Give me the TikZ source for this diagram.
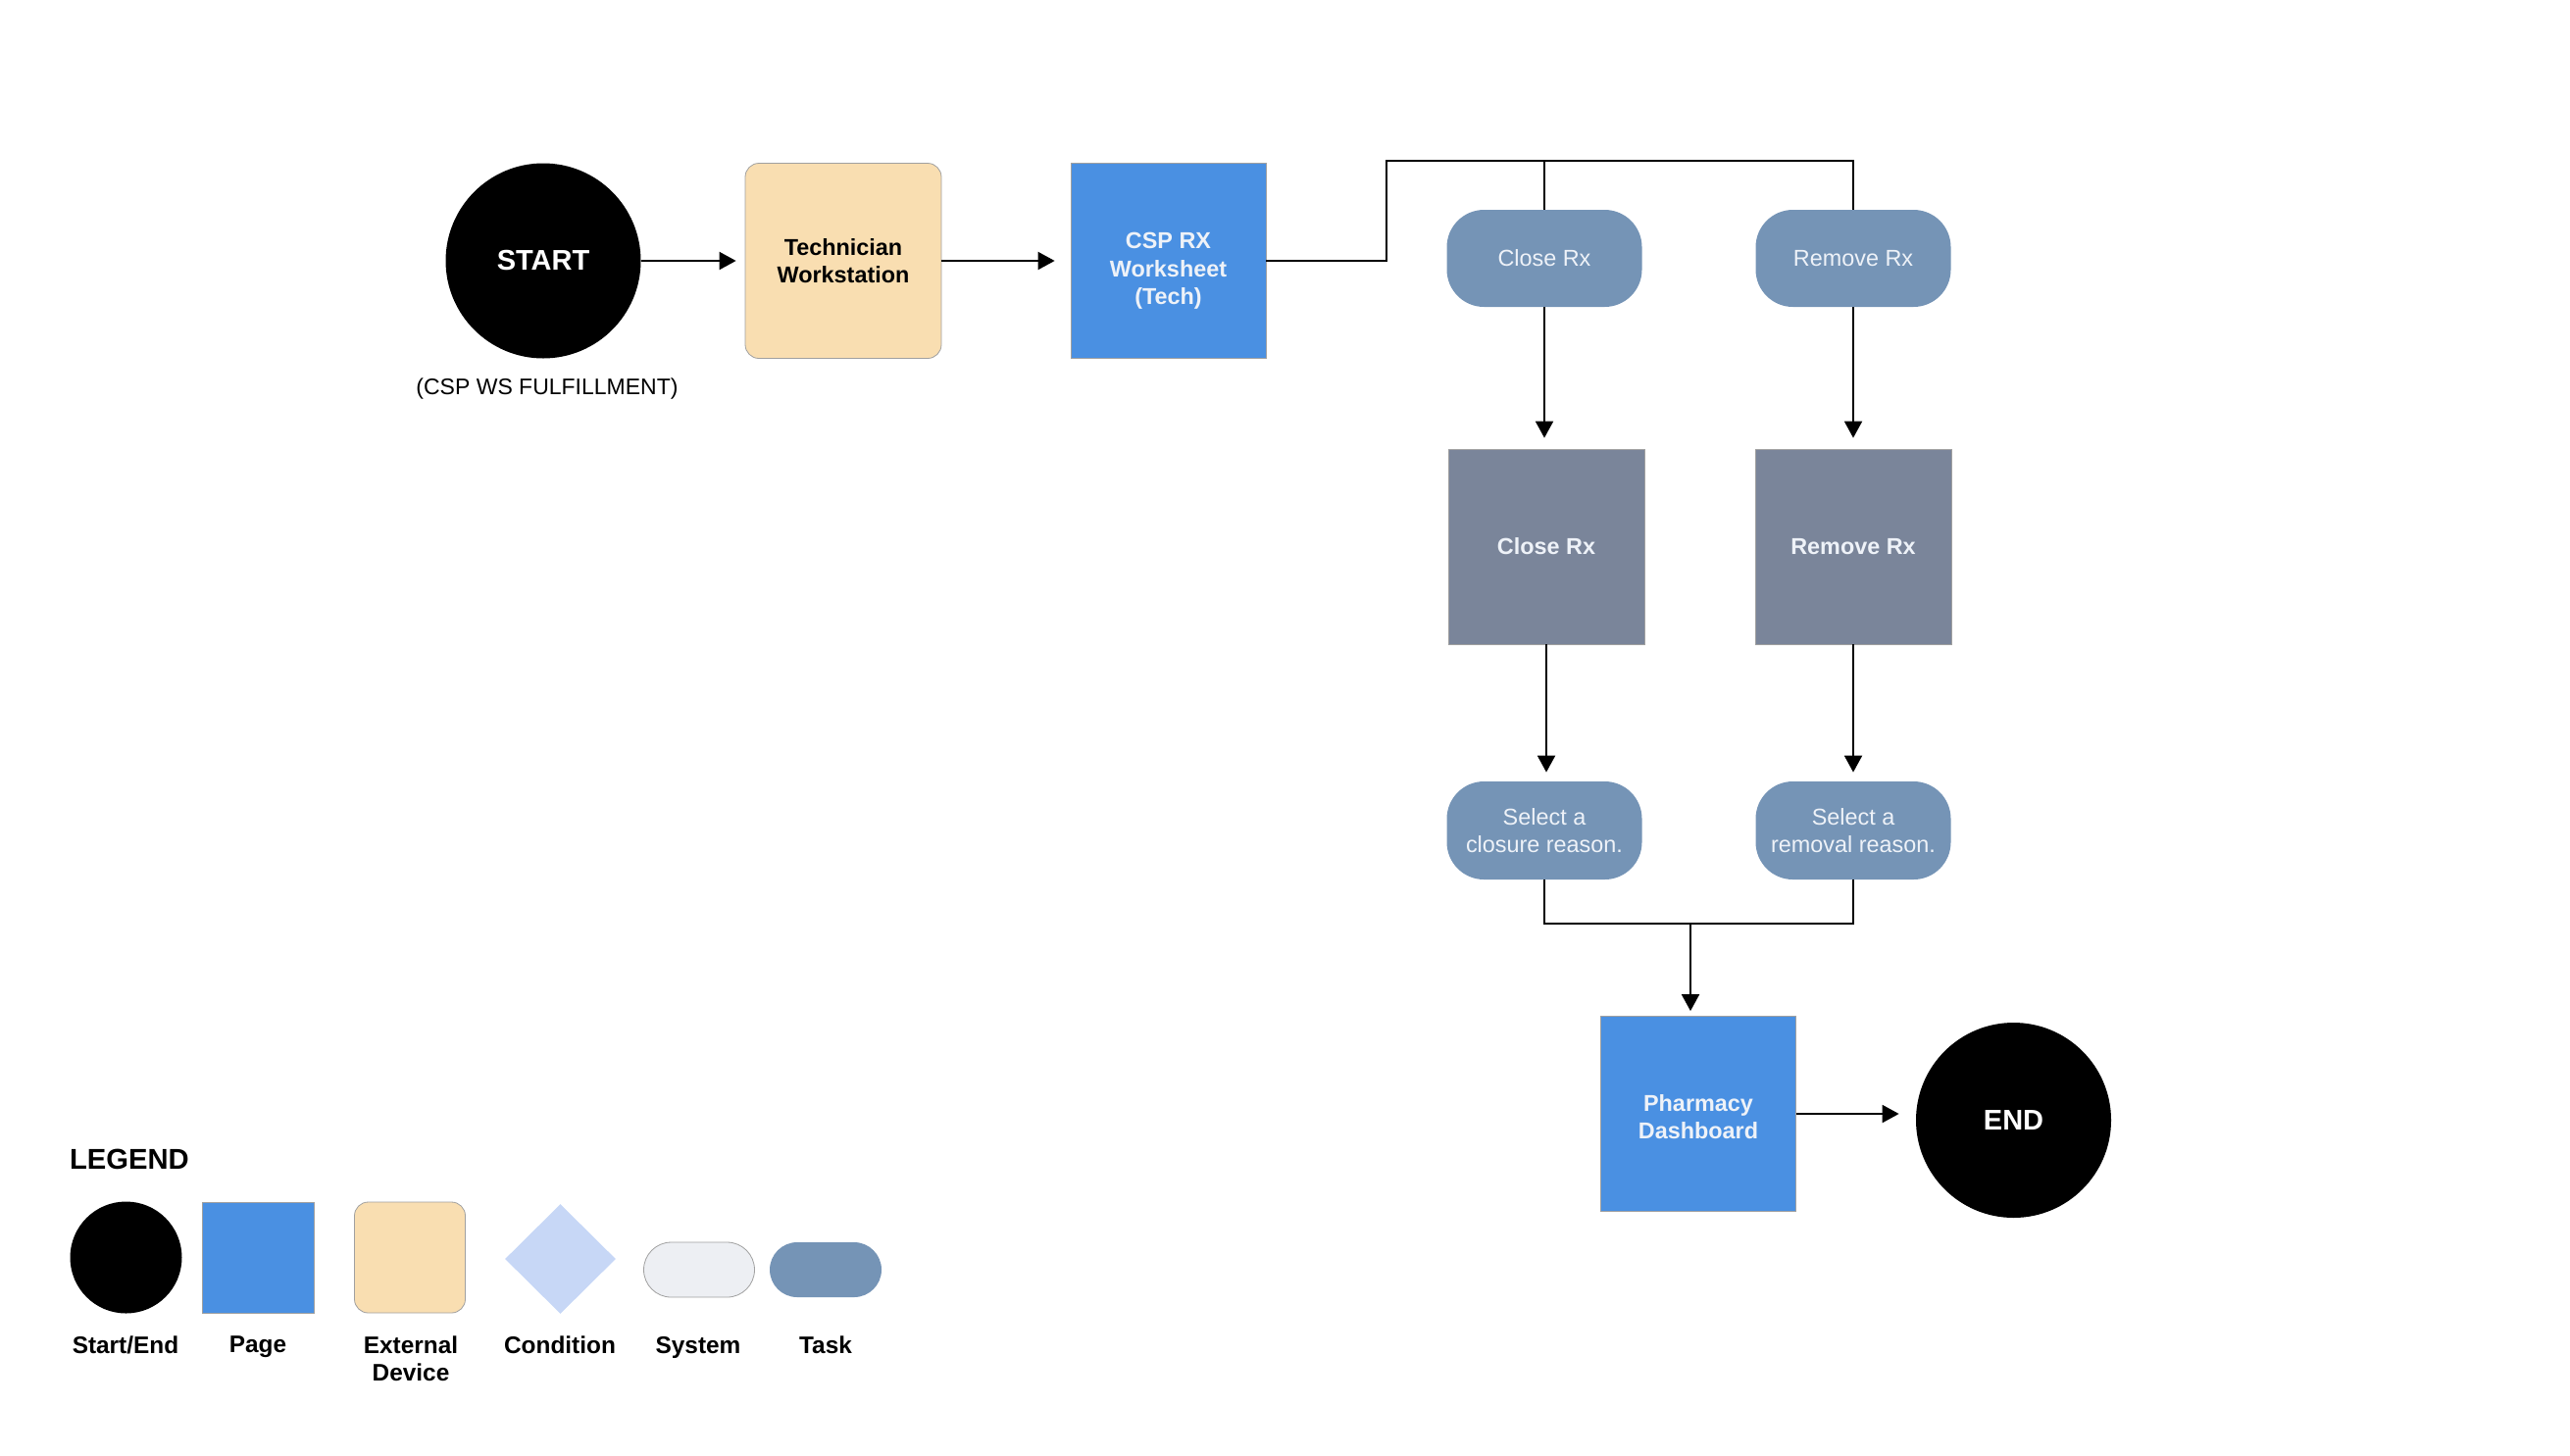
\documentclass[tikz,border=0pt]{standalone}
\usepackage{fontspec}
\setmainfont{Liberation Sans}
\usetikzlibrary{arrows.meta,shapes.geometric}
\definecolor{pageblue}{HTML}{4A90E2}
\definecolor{taskblue}{HTML}{7594B6}
\definecolor{pagegrey}{HTML}{7A859A}
\definecolor{extfill}{HTML}{F9DEB1}
\definecolor{condfill}{HTML}{C7D7F6}
\definecolor{sysfill}{HTML}{EDEFF3}
\definecolor{edgegrey}{HTML}{A0A0A0}
\definecolor{lighttext}{HTML}{EEF2F8}
\tikzset{
  ttxt/.style={font=\fontsize{11.7}{14.2}\selectfont, align=center},
  btxt/.style={font=\bfseries\fontsize{11.7}{14.2}\selectfont, align=center},
  termnode/.style={circle, fill=black, minimum size=99.5pt, inner sep=0pt, text=white, font=\bfseries\fontsize{14.5}{17}\selectfont},
  pagenode/.style={rectangle, fill=pageblue, draw=edgegrey, line width=0.4pt, minimum width=99.5pt, minimum height=99.5pt, inner sep=0pt, text=lighttext, btxt},
  greypage/.style={rectangle, fill=pagegrey, draw=edgegrey, line width=0.4pt, minimum width=100pt, minimum height=99.5pt, inner sep=0pt, text=lighttext, btxt},
  extnode/.style={rectangle, rounded corners=7pt, fill=extfill, draw=edgegrey, line width=0.4pt, minimum width=100pt, minimum height=99.5pt, inner sep=0pt, btxt},
  tasknode/.style={rectangle, rounded corners=19pt, fill=taskblue, minimum width=99.5pt, minimum height=49.5pt, inner sep=0pt, text=lighttext, ttxt},
  arr/.style={line width=1pt, -{Triangle[length=8.5pt,width=9pt]}, shorten >=4.5pt},
  conn/.style={line width=1pt},
  lglabel/.style={font=\bfseries\fontsize{12.2}{14}\selectfont, align=center, anchor=north}
}
\begin{document}
\begin{tikzpicture}[x=0.5pt,y=-0.5pt]
\useasboundingbox (0,0) rectangle (2621,1484);
% main flow
\node[termnode] (start) at (554,266) {START};
\node[ttxt, font=\fontsize{11.5}{14}\selectfont] (startlbl) at (558,397) {(CSP WS FULFILLMENT)};
\node[extnode] (tech) at (860,266) {Technician\\Workstation};
\node[pagenode] (csp) at (1191.5,266) {};
\node[btxt, text=lighttext] (csptext) at ([yshift=-5.2pt]csp.center) {CSP RX\\Worksheet\\(Tech)};

\node[tasknode] (closetask) at (1575,263.5) {Close Rx};
\node[tasknode] (remtask) at (1890,263.5) {Remove Rx};
\node[greypage] (closepage) at (1577,557.5) {Close Rx};
\node[greypage] (rempage) at (1890,557.5) {Remove Rx};
\node[tasknode, minimum height=50pt] (selclose) at (1575,847) {Select a\\closure reason.};
\node[tasknode, minimum height=50pt] (selrem) at (1890,847) {Select a\\removal reason.};
\node[pagenode] (dash) at (1732,1136) {};
\node[btxt, text=lighttext] (dashtext) at ([yshift=-1.5pt]dash.center) {Pharmacy\\Dashboard};
\node[termnode] (end) at (2053.5,1142.5) {END};

\coordinate (busL) at (1414,163.5);
\coordinate (merge) at (1724,942);

\draw[arr] (start) -- (tech);
\draw[arr, shorten >=8pt] (tech) -- (csp);
\draw[conn] (csp.east) -| (busL) -| (remtask.north);
\draw[conn] (closetask.north) -- (closetask.north |- busL);
\draw[arr, shorten >=5.5pt] (closetask.south) -- (closetask.south |- closepage.north);
\draw[arr, shorten >=5.5pt] (remtask) -- (rempage);
\draw[arr] (closepage.south) -- (closepage.south |- selclose.north);
\draw[arr] (rempage) -- (selrem);
\draw[conn] (selclose.south) |- (merge);
\draw[conn] (selrem.south) |- (merge);
\draw[arr, shorten >=2.5pt] (merge) -- (merge |- dash.north);
\draw[arr, shorten >=8.5pt] (dash.east) -- (dash.east -| end.west);

% legend
\node[font=\bfseries\fontsize{14.6}{17}\selectfont, anchor=west] (lgtitle) at (64,1182) {LEGEND};
\node[circle, fill=black, minimum size=57pt, inner sep=0pt] (lgstart) at (128.5,1282.5) {};
\node[rectangle, fill=pageblue, draw=edgegrey, line width=0.4pt, minimum width=57pt, minimum height=56.5pt, inner sep=0pt] (lgpage) at (263.5,1282.5) {};
\node[rectangle, rounded corners=7pt, fill=extfill, draw=edgegrey, line width=0.4pt, minimum width=56.5pt, minimum height=56.5pt, inner sep=0pt] (lgext) at (418,1282.5) {};
\node[diamond, fill=condfill, minimum width=56.5pt, minimum height=56pt, inner sep=0pt] (lgcond) at (571.5,1284) {};
\node[rectangle, rounded corners=14pt, fill=sysfill, draw=edgegrey, line width=0.4pt, minimum width=56.5pt, minimum height=28pt, inner sep=0pt] (lgsys) at (713,1295) {};
\node[rectangle, rounded corners=14pt, fill=taskblue, minimum width=57pt, minimum height=28pt, inner sep=0pt] (lgtask) at (842,1295) {};

\node[lglabel] (lbstart) at (128,1356) {Start/End};
\node[lglabel] (lbpage) at (263,1356) {Page};
\node[lglabel] (lbext) at (419,1356) {External\\Device};
\node[lglabel] (lbcond) at (571,1356) {Condition};
\node[lglabel] (lbsys) at (712,1356) {System};
\node[lglabel] (lbtask) at (842,1356) {Task};
\end{tikzpicture}
\end{document}
